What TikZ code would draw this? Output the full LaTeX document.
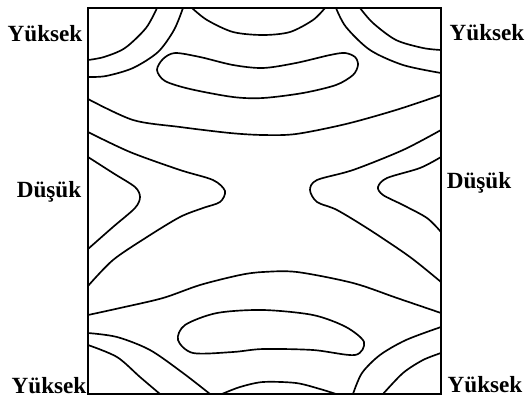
\documentclass[tikz,border=0pt]{standalone}
\usepackage{fontspec}
\setmainfont{Liberation Serif}
\usetikzlibrary{positioning}
\tikzset{
  frame/.style={line width=1.4pt},
  iso/.style={line width=1.25pt, line join=round, line cap=round},
  lbl/.style={font=\fontsize{17.4}{19}\selectfont\bfseries, inner sep=0pt, anchor=base},
}
\begin{document}
\begin{tikzpicture}[x=0.75pt, y=-0.75pt]
\useasboundingbox (0,0) rectangle (526,401);
\draw[frame] (88,8) rectangle (441,394);
% corner arcs
\draw[iso] plot[smooth] coordinates {(157,8) (146,28) (125,48) (104,57) (88,60)};
\draw[iso] plot[smooth] coordinates {(183,8) (174,30) (158,52) (133,68) (106,76) (88,77)};
\draw[iso] plot[smooth] coordinates {(336,8) (346,27) (370,50) (403,65) (441,73)};
\draw[iso] plot[smooth] coordinates {(360,8) (373,23) (396,40) (423,48) (441,50)};
\draw[iso] plot[smooth] coordinates {(88,333) (117,337) (150,350) (183,373) (210,394)};
\draw[iso] plot[smooth] coordinates {(88,345) (117,357) (140,377) (160,394)};
\draw[iso] plot[smooth] coordinates {(353,394) (362,373) (380,355) (406,340) (441,327)};
\draw[iso] plot[smooth] coordinates {(383,394) (403,373) (423,360) (441,353)};
% top and bottom
\draw[iso] plot[smooth] coordinates {(192,8) (207,20) (233,32) (263,35) (290,32) (313,20) (325,8)};
\draw[iso] plot[smooth] coordinates {(222,394) (240,387) (263,382) (296,383) (320,389) (336,394)};
\draw[iso] plot[smooth cycle] coordinates {(157,70) (163,59) (175,53) (200,57) (233,65) (263,68) (296,63)
  (330,55) (345,53) (355,57) (358,65) (353,75) (336,85) (303,93) (263,98) (233,97) (190,89) (165,81)};
\draw[iso] plot[smooth cycle] coordinates {(178,340) (185,325) (217,313) (263,310) (313,315) (346,327)
  (364,342) (355,355) (313,350) (263,349) (233,352) (193,353)};
\draw[iso] plot[smooth] coordinates {(88,99) (133,120) (180,127) (230,133) (263,135) (296,134) (346,124) (396,110) (441,95)};
\draw[iso] plot[smooth] coordinates {(88,315) (120,308) (163,298) (200,285) (240,275) (263,272) (297,272) (353,283) (397,298) (441,313)};
% saddle
\draw[iso] plot[smooth] coordinates {(88,132) (130,152) (180,170) (213,180) (225,191) (220,202) (203,208)
  (180,217) (147,237) (113,260) (88,286)};
\draw[iso] plot[smooth] coordinates {(441,130) (403,150) (353,170) (317,180) (310,190) (317,202) (337,210)
  (370,230) (410,257) (441,282)};
\draw[iso] plot[smooth] coordinates {(88,157) (113,173) (135,187) (140,197) (135,208) (113,227) (88,249)};
\draw[iso] plot[smooth] coordinates {(441,157) (420,168) (387,178) (378,187) (383,195) (403,205) (427,218) (441,232)};
% labels
\node[lbl] (hiTL) at (45,41) {Yüksek};
\node[lbl] (hiTR) at (487,40) {Yüksek};
\node[lbl] (loL) at (49,197) {Düşük};
\node[lbl] (loR) at (479,188) {Düşük};
\node[lbl] (hiBL) at (49,393) {Yüksek};
\node[lbl] (hiBR) at (485,392) {Yüksek};
\end{tikzpicture}
\end{document}
